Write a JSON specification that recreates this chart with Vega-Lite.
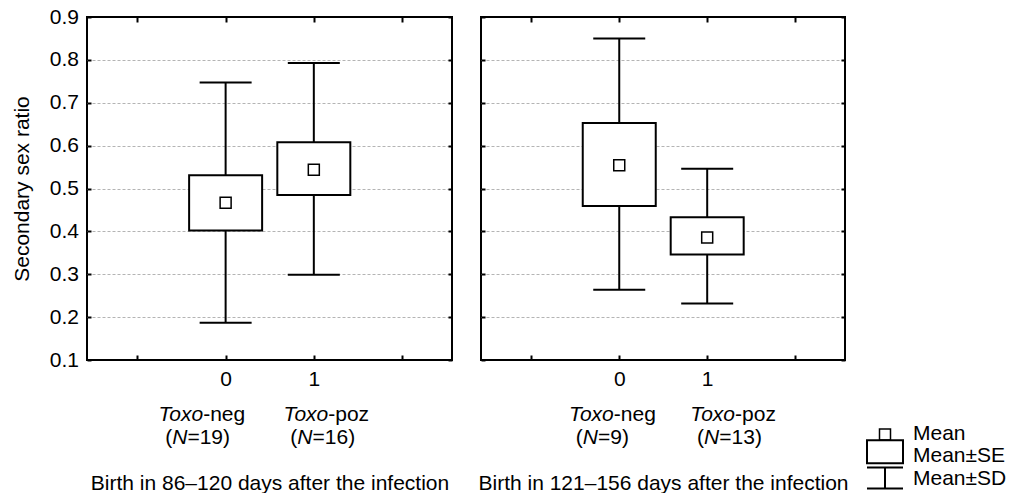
{
  "$schema": "https://vega.github.io/schema/vega-lite/v6.json",
  "padding": {"left": 10, "top": 5, "right": 0, "bottom": 0},
  "bounds": "flush",
  "spacing": 29,
  "config": {
    "font": "Liberation Sans",
    "view": {"stroke": "black", "strokeWidth": 2},
    "axis": {
      "labelFont": "Liberation Sans", "labelFontSize": 21, "labelColor": "black",
      "titleFont": "Liberation Sans", "titleFontSize": 21, "titleFontWeight": "normal", "titleColor": "black",
      "tickColor": "black", "domain": false, "grid": false,
      "labelOverlap": false, "labelFlush": false, "labelBound": false
    }
  },
  "datasets": {
    "stats": [
      {"panel": "A", "group": 0, "mean": 0.467, "se_lo": 0.402, "se_hi": 0.531, "sd_lo": 0.187, "sd_hi": 0.747},
      {"panel": "A", "group": 1, "mean": 0.544, "se_lo": 0.485, "se_hi": 0.608, "sd_lo": 0.299, "sd_hi": 0.793},
      {"panel": "B", "group": 0, "mean": 0.554, "se_lo": 0.459, "se_hi": 0.653, "sd_lo": 0.264, "sd_hi": 0.850},
      {"panel": "B", "group": 1, "mean": 0.386, "se_lo": 0.346, "se_hi": 0.433, "sd_lo": 0.232, "sd_hi": 0.546}
    ],
    "legend": [
      {"item": "Mean"},
      {"item": "Mean±SE"},
      {"item": "Mean±SD"}
    ]
  },
  "hconcat": [
    {
      "width": 365, "height": 343,
      "data": {"name": "stats"},
      "transform": [{"filter": "datum.panel == 'A'"}],
      "resolve": {"axis": {"x": "independent", "y": "independent"}},
      "layer": [
        {
          "mark": {"type": "rule", "color": "black", "strokeWidth": 2},
          "encoding": {
            "x": {"field": "group", "type": "quantitative", "scale": {"domain": [-1.515, 2.51], "nice": false, "zero": false},
              "axis": {"orient": "bottom", "values": [-1, 0, 1, 2], "format": "d", "labelExpr": "datum.value == 0 || datum.value == 1 ? datum.label : ''", "ticks": true, "tickSize": -5, "tickWidth": 2, "labelPadding": 24, "labelBaseline": "middle", "title": "Birth in 86–120 days after the infection", "titleY": 123, "titleBaseline": "middle"}},
            "y": {"field": "sd_lo", "type": "quantitative", "scale": {"domain": [0.1, 0.9], "nice": false, "zero": false},
              "axis": {"orient": "left", "values": [0.1, 0.2, 0.3, 0.4, 0.5, 0.6, 0.7, 0.8, 0.9], "format": ".1f", "ticks": true, "tickSize": -4, "tickWidth": 2, "labelPadding": 12.6, "labelBaseline": "middle",
                "grid": true, "gridColor": "#b4b4b4", "gridDash": [3, 2], "gridWidth": 1,
                "gridOpacity": {"condition": {"test": "datum.value < 0.15 || datum.value > 0.85", "value": 0}, "value": 1},
                "title": "Secondary sex ratio", "titleX": -55, "titleBaseline": "bottom"}},
            "y2": {"field": "se_lo"}
          }
        },
        {
          "mark": {"type": "rule", "color": "black", "strokeWidth": 2},
          "encoding": {
            "x": {"field": "group", "type": "quantitative",
              "axis": {"orient": "bottom", "offset": -343, "values": [-1, 0, 1, 2], "labelExpr": "datum.value == 0 ? '-neg' : (datum.value == 1 ? '-poz' : '')", "labelAlign": "left", "labelBaseline": "middle", "ticks": true, "tickSize": 5, "tickWidth": 2, "labelPadding": 392,
                "labelOffset": {"condition": {"test": "datum.value == 0", "value": -22.95}, "value": 13.95}, "title": null}},
            "y": {"field": "se_hi", "type": "quantitative",
              "axis": {"orient": "right", "values": [0.1, 0.2, 0.3, 0.4, 0.5, 0.6, 0.7, 0.8, 0.9], "labels": false, "ticks": true, "tickSize": -4, "tickWidth": 2, "title": null}},
            "y2": {"field": "sd_hi"}
          }
        },
        {
          "mark": {"type": "tick", "orient": "horizontal", "color": "black", "size": 52, "thickness": 2, "opacity": 1},
          "encoding": {
            "x": {"field": "group", "type": "quantitative",
              "axis": {"orient": "bottom", "values": [0, 1], "labelExpr": "'Toxo'", "labelFontStyle": "italic", "labelAlign": "right", "labelBaseline": "middle", "labelPadding": 54, "ticks": false,
                "labelOffset": {"condition": {"test": "datum.value == 0", "value": -22.95}, "value": 13.95}, "title": null}},
            "y": {"field": "sd_lo", "type": "quantitative", "axis": null}
          }
        },
        {
          "mark": {"type": "tick", "orient": "horizontal", "color": "black", "size": 52, "thickness": 2, "opacity": 1},
          "encoding": {
            "x": {"field": "group", "type": "quantitative",
              "axis": {"orient": "bottom", "values": [0, 1], "labelExpr": "'N'", "labelFontStyle": "italic", "labelAlign": "left", "labelBaseline": "middle", "labelPadding": 77, "ticks": false,
                "labelOffset": {"condition": {"test": "datum.value == 0", "value": -53.9}, "value": -17}, "title": null}},
            "y": {"field": "sd_hi", "type": "quantitative", "axis": null}
          }
        },
        {
          "mark": {"type": "bar", "size": 73, "fill": "white", "stroke": "black", "strokeWidth": 2},
          "encoding": {
            "x": {"field": "group", "type": "quantitative",
              "axis": {"orient": "bottom", "values": [0, 1], "labelExpr": "'('", "labelAlign": "right", "labelBaseline": "middle", "labelPadding": 77, "ticks": false,
                "labelOffset": {"condition": {"test": "datum.value == 0", "value": -53.9}, "value": -17}, "title": null}},
            "y": {"field": "se_lo", "type": "quantitative", "axis": null},
            "y2": {"field": "se_hi"}
          }
        },
        {
          "mark": {"type": "point", "shape": "square", "size": 121, "filled": false, "color": "black", "strokeWidth": 1.5, "opacity": 1},
          "encoding": {
            "x": {"field": "group", "type": "quantitative",
              "axis": {"orient": "bottom", "values": [0, 1], "labelExpr": "datum.value == 0 ? '=19)' : '=16)'", "labelAlign": "left", "labelBaseline": "middle", "labelPadding": 77, "ticks": false,
                "labelOffset": {"condition": {"test": "datum.value == 0", "value": -38.7}, "value": -1.8}, "title": null}},
            "y": {"field": "mean", "type": "quantitative", "axis": null}
          }
        }
      ]
    },
    {
      "width": 364, "height": 343,
      "data": {"name": "stats"},
      "transform": [{"filter": "datum.panel == 'B'"}],
      "resolve": {"axis": {"x": "independent", "y": "independent"}},
      "layer": [
        {
          "mark": {"type": "rule", "color": "black", "strokeWidth": 2},
          "encoding": {
            "x": {"field": "group", "type": "quantitative", "scale": {"domain": [-1.515, 2.51], "nice": false, "zero": false},
              "axis": {"orient": "bottom", "values": [-1, 0, 1, 2], "format": "d", "labelExpr": "datum.value == 0 || datum.value == 1 ? datum.label : ''", "ticks": true, "tickSize": -5, "tickWidth": 2, "labelPadding": 24, "labelBaseline": "middle", "title": "Birth in 121–156 days after the infection", "titleY": 123, "titleBaseline": "middle"}},
            "y": {"field": "sd_lo", "type": "quantitative", "scale": {"domain": [0.1, 0.9], "nice": false, "zero": false},
              "axis": {"orient": "left", "values": [0.1, 0.2, 0.3, 0.4, 0.5, 0.6, 0.7, 0.8, 0.9], "labels": false, "ticks": true, "tickSize": -4, "tickWidth": 2,
                "grid": true, "gridColor": "#b4b4b4", "gridDash": [3, 2], "gridWidth": 1,
                "gridOpacity": {"condition": {"test": "datum.value < 0.15 || datum.value > 0.85", "value": 0}, "value": 1},
                "title": null}},
            "y2": {"field": "se_lo"}
          }
        },
        {
          "mark": {"type": "rule", "color": "black", "strokeWidth": 2},
          "encoding": {
            "x": {"field": "group", "type": "quantitative",
              "axis": {"orient": "bottom", "offset": -343, "values": [-1, 0, 1, 2], "labelExpr": "datum.value == 0 ? '-neg' : (datum.value == 1 ? '-poz' : '')", "labelAlign": "left", "labelBaseline": "middle", "ticks": true, "tickSize": 5, "tickWidth": 2, "labelPadding": 392,
                "labelOffset": {"condition": {"test": "datum.value == 0", "value": -5.95}, "value": 27.35}, "title": null}},
            "y": {"field": "se_hi", "type": "quantitative",
              "axis": {"orient": "right", "values": [0.1, 0.2, 0.3, 0.4, 0.5, 0.6, 0.7, 0.8, 0.9], "labels": false, "ticks": true, "tickSize": -4, "tickWidth": 2, "title": null}},
            "y2": {"field": "sd_hi"}
          }
        },
        {
          "mark": {"type": "tick", "orient": "horizontal", "color": "black", "size": 52, "thickness": 2, "opacity": 1},
          "encoding": {
            "x": {"field": "group", "type": "quantitative",
              "axis": {"orient": "bottom", "values": [0, 1], "labelExpr": "'Toxo'", "labelFontStyle": "italic", "labelAlign": "right", "labelBaseline": "middle", "labelPadding": 54, "ticks": false,
                "labelOffset": {"condition": {"test": "datum.value == 0", "value": -5.95}, "value": 27.35}, "title": null}},
            "y": {"field": "sd_lo", "type": "quantitative", "axis": null}
          }
        },
        {
          "mark": {"type": "tick", "orient": "horizontal", "color": "black", "size": 52, "thickness": 2, "opacity": 1},
          "encoding": {
            "x": {"field": "group", "type": "quantitative",
              "axis": {"orient": "bottom", "values": [0, 1], "labelExpr": "'N'", "labelFontStyle": "italic", "labelAlign": "left", "labelBaseline": "middle", "labelPadding": 77, "ticks": false,
                "labelOffset": {"condition": {"test": "datum.value == 0", "value": -36.9}, "value": -3.6}, "title": null}},
            "y": {"field": "sd_hi", "type": "quantitative", "axis": null}
          }
        },
        {
          "mark": {"type": "bar", "size": 73, "fill": "white", "stroke": "black", "strokeWidth": 2},
          "encoding": {
            "x": {"field": "group", "type": "quantitative",
              "axis": {"orient": "bottom", "values": [0, 1], "labelExpr": "'('", "labelAlign": "right", "labelBaseline": "middle", "labelPadding": 77, "ticks": false,
                "labelOffset": {"condition": {"test": "datum.value == 0", "value": -36.9}, "value": -3.6}, "title": null}},
            "y": {"field": "se_lo", "type": "quantitative", "axis": null},
            "y2": {"field": "se_hi"}
          }
        },
        {
          "mark": {"type": "point", "shape": "square", "size": 121, "filled": false, "color": "black", "strokeWidth": 1.5, "opacity": 1},
          "encoding": {
            "x": {"field": "group", "type": "quantitative",
              "axis": {"orient": "bottom", "values": [0, 1], "labelExpr": "datum.value == 0 ? '=9)' : '=13)'", "labelAlign": "left", "labelBaseline": "middle", "labelPadding": 77, "ticks": false,
                "labelOffset": {"condition": {"test": "datum.value == 0", "value": -21.7}, "value": 11.6}, "title": null}},
            "y": {"field": "mean", "type": "quantitative", "axis": null}
          }
        }
      ]
    },
    {
      "width": 22, "height": 343,
      "view": {"stroke": null},
      "data": {"name": "legend"},
      "layer": [
        {
          "transform": [{"filter": "datum.item == 'Mean'"}],
          "mark": {"type": "point", "shape": "square", "size": 121, "filled": false, "color": "black", "strokeWidth": 1.5, "opacity": 1, "yOffset": 1},
          "encoding": {
            "y": {"field": "item", "type": "nominal", "scale": {"domain": ["Mean", "Mean±SE", "Mean±SD"], "range": [416.5, 462], "padding": 0}, "axis": null}
          }
        },
        {
          "transform": [{"filter": "datum.item == 'Mean±SE'"}],
          "mark": {"type": "point", "shape": "M-1,-0.64H1V0.64H-1Z", "size": 1296, "filled": false, "color": "black", "strokeWidth": 2, "opacity": 1, "yOffset": -4.5},
          "encoding": {
            "y": {"field": "item", "type": "nominal", "axis": null}
          }
        },
        {
          "transform": [{"filter": "datum.item == 'Mean±SD'"}],
          "mark": {"type": "point", "shape": "M-1,-0.58H1M0,-0.58V0.58M-1,0.58H1", "size": 1296, "filled": false, "color": "black", "strokeWidth": 2, "opacity": 1, "yOffset": -1},
          "encoding": {
            "y": {"field": "item", "type": "nominal", "axis": null}
          }
        },
        {
          "mark": {"type": "text", "align": "left", "baseline": "middle", "dx": 28, "font": "Liberation Sans", "fontSize": 21, "color": "black"},
          "encoding": {
            "y": {"field": "item", "type": "nominal", "axis": null},
            "text": {"field": "item"}
          }
        }
      ]
    }
  ]
}
